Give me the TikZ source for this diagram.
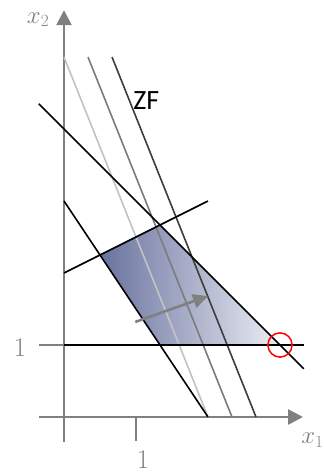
\documentclass[tikz,border=0pt]{standalone}
\usepackage{fontspec}
\newfontfamily\zffont{Carlito}
\usetikzlibrary{arrows.meta}
\definecolor{axisgray}{RGB}{128,128,128}
\definecolor{objA}{RGB}{195,195,195}
\definecolor{objB}{RGB}{125,125,125}
\definecolor{objC}{RGB}{64,64,64}
\definecolor{shadeL}{RGB}{104,114,158}
\definecolor{shadeR}{RGB}{236,237,244}
\tikzset{
  axisline/.style={draw=axisgray, line width=2.6pt, -{Triangle[length=15pt,width=15pt]}},
  ticklabel/.style={text=axisgray, font=\fontsize{27}{32}\selectfont, inner sep=0pt},
  conline/.style={draw=black, line width=1.6pt},
  objline/.style={line width=1.6pt},
  movearrow/.style={draw=axisgray, line width=2.6pt, -{Triangle[length=15pt,width=14pt]}},
  optmark/.style={draw=red, line width=1.5pt},
}
\begin{document}
\begin{tikzpicture}[x=1in,y=1in]
\useasboundingbox (-0.889,-0.764) rectangle (3.611,5.792);
% feasible region
\coordinate (A) at (0.5,2.25);
\coordinate (B) at (4/3,8/3);
\coordinate (C) at (3,1);
\coordinate (D) at (4/3,1);
\shade[left color=shadeL, right color=shadeR] (A) -- (B) -- (C) -- (D) -- cycle;
% axes
\coordinate (O) at (0,0);
\coordinate (xs) at (-0.347,0);
\coordinate (xe) at (3.32,0);
\coordinate (ys) at (0,-0.347);
\coordinate (ye) at (0,5.65);
\draw[axisline] (xs) -- (xe);
\draw[axisline] (ys) -- (ye);
\draw[draw=axisgray, line width=2.6pt] (1,0) -- (1,-0.33);
\draw[draw=axisgray, line width=1.8pt] (-0.347,1) -- (0,1);
\node[ticklabel, anchor=north] (l1x) at (1.097,-0.46) {1};
\node[ticklabel] (l1y) at (-0.61,0.97) {1};
\node[ticklabel] (lx1) at (3.45,-0.32) {$x_1$};
\node[ticklabel] (lx2) at (-0.36,5.52) {$x_2$};
% objective lines
\draw[objline, draw=objA] (0,5) -- (2,0);
\draw[objline, draw=objB] (1/3,5) -- (7/3,0);
\draw[objline, draw=objC] (2/3,5) -- (8/3,0);
\node[font=\zffont\fontsize{28}{33}\selectfont, inner sep=0pt, anchor=west] (zf) at (0.96,4.39) {ZF};
% constraints
\draw[conline] (-0.35,4.35) -- (3.33,0.67);
\draw[conline] (0,3) -- (2,0);
\draw[conline] (0,2) -- (2,3);
\draw[conline] (0,1) -- (3.33,1);
% direction arrow
\coordinate (at) at (0.99,1.32);
\coordinate (ah) at (2.0,1.68);
\draw[movearrow] (at) -- (ah);
% optimum
\draw[optmark] (C) circle (0.168);
\end{tikzpicture}
\end{document}
